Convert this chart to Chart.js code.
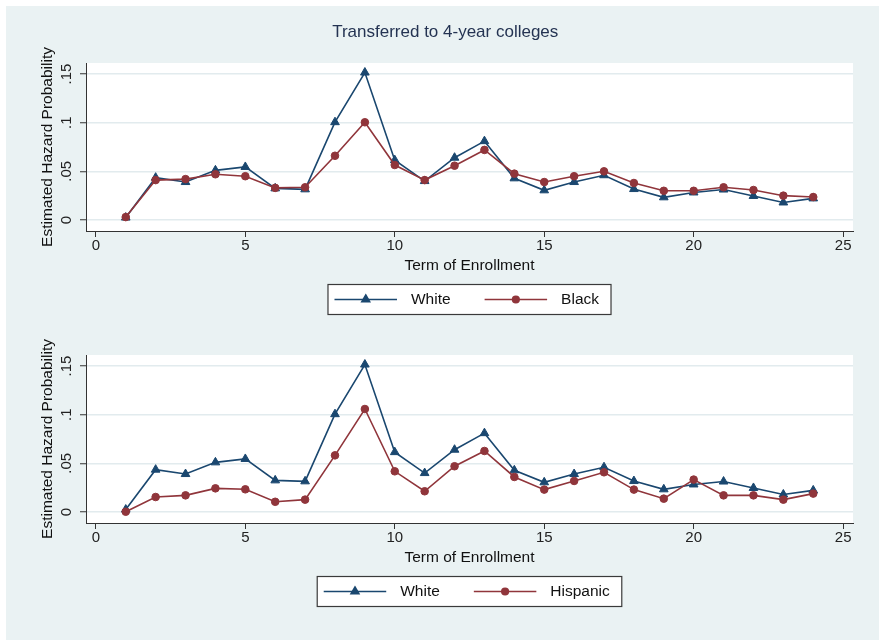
<!DOCTYPE html>
<html>
<head>
<meta charset="utf-8">
<script src="https://cdn.jsdelivr.net/npm/chart.js@4.4.1/dist/chart.umd.min.js"></script>
<style>
  html, body { margin: 0; padding: 0; background: #ffffff; }
  #graph { position: absolute; left: 6px; top: 6px; width: 873px; height: 634px; background: #eaf2f3; }
  #graph canvas { position: absolute; left: 0; }
  #top { top: 0; }
  #bottom { top: 314px; }
</style>
</head>
<body>
<div id="graph">
  <canvas id="top" width="873" height="314"></canvas>
  <canvas id="bottom" width="873" height="320"></canvas>
</div>
<script>
// Term of enrollment (x) and estimated hazard probabilities per group
const terms = [1, 2, 3, 4, 5, 6, 7, 8, 9, 10, 11, 12, 13, 14, 15, 16, 17, 18, 19, 20, 21, 22, 23, 24];
const white = [0.0025, 0.0435, 0.0390, 0.0510, 0.0545, 0.0325, 0.0315, 0.1005, 0.1515, 0.0615, 0.0400, 0.0640,
               0.0810, 0.0428, 0.0305, 0.0390, 0.0460, 0.0318, 0.0233, 0.0283, 0.0313, 0.0247, 0.0180, 0.0222];
const black = [0.0030, 0.0410, 0.0420, 0.0470, 0.0450, 0.0330, 0.0336, 0.0660, 0.1004, 0.0565, 0.0410, 0.0558,
               0.0720, 0.0476, 0.0390, 0.0450, 0.0500, 0.0380, 0.0300, 0.0300, 0.0336, 0.0308, 0.0250, 0.0236];
const hispanic = [0.0003, 0.0154, 0.0171, 0.0243, 0.0233, 0.0105, 0.0127, 0.0582, 0.1058, 0.0418, 0.0213, 0.0470,
                  0.0627, 0.0360, 0.0230, 0.0319, 0.0408, 0.0230, 0.0137, 0.0333, 0.0171, 0.0171, 0.0127, 0.0189];

const xTicks = [0, 5, 10, 15, 20, 25];
const xTickLabels = ['0', '5', '10', '15', '20', '25'];
const yTicks = [0, 0.05, 0.1, 0.15];
const yTickLabels = ['0', '.05', '.1', '.15'];

const chartTitle = 'Transferred to 4-year colleges';
const xTitle = 'Term of Enrollment';
const yTitle = 'Estimated Hazard Probability';

const FAMILY = "'Liberation Sans', Arial, Helvetica, sans-serif";
const NAVY = '#1a476f';
const MAROON = '#90353b';
const AXIS = '#333333';

function points(values) {
  return terms.map((t, i) => ({ x: t, y: values[i] }));
}

// White plot region behind the data
const plotBackground = {
  id: 'plotBackground',
  beforeDraw(chart) {
    const { ctx, chartArea: a } = chart;
    ctx.save();
    ctx.fillStyle = '#ffffff';
    ctx.fillRect(a.left, a.top, a.right - a.left, a.bottom - a.top);
    ctx.restore();
  }
};

// Vertical y tick labels, placed from the y scale
const verticalYLabels = {
  id: 'verticalYLabels',
  afterDraw(chart) {
    const { ctx } = chart;
    const scale = chart.scales.y;
    ctx.save();
    ctx.font = '15px ' + FAMILY;
    ctx.fillStyle = '#222222';
    ctx.textAlign = 'center';
    ctx.textBaseline = 'middle';
    scale.ticks.forEach((t, i) => {
      const py = scale.getPixelForValue(t.value);
      ctx.save();
      ctx.translate(chart.chartArea.left - 19.5, py);
      ctx.rotate(-Math.PI / 2);
      ctx.fillText(yTickLabels[i], 0, 0);
      ctx.restore();
    });
    ctx.restore();
  }
};

// Boxed legend below the x axis: line + marker + label for each series
const boxLegend = {
  id: 'boxLegend',
  afterDraw(chart) {
    const { ctx, chartArea: a } = chart;
    const sets = chart.data.datasets;
    const padL = 6.5, lineLen = 62.5, gapT = 14, itemGap = 34, padR = 12, h = 30;
    ctx.save();
    ctx.font = '15.5px ' + FAMILY;
    const widths = sets.map(d => ctx.measureText(d.label).width);
    let total = padL + padR + itemGap * (sets.length - 1);
    widths.forEach(w => { total += lineLen + gapT + w; });
    const x0 = (a.left + a.right) / 2 - total / 2;
    const y0 = a.bottom + 53.5;
    ctx.fillStyle = '#ffffff';
    ctx.fillRect(x0, y0, total, h);
    ctx.strokeStyle = '#3a3a3a';
    ctx.lineWidth = 1.2;
    ctx.strokeRect(x0, y0, total, h);
    const cy = y0 + h / 2;
    let x = x0 + padL;
    sets.forEach((d, i) => {
      ctx.strokeStyle = d.borderColor;
      ctx.lineWidth = d.borderWidth;
      ctx.beginPath();
      ctx.moveTo(x, cy);
      ctx.lineTo(x + lineLen, cy);
      ctx.stroke();
      ctx.fillStyle = d.pointBackgroundColor;
      ctx.strokeStyle = d.pointBorderColor;
      Chart.helpers.drawPoint(ctx, {
        pointStyle: d.pointStyle,
        radius: d.pointStyle === 'triangle' ? 4.5 : 3.3,
        rotation: 0,
        borderWidth: 1
      }, x + lineLen / 2, cy);
      ctx.fillStyle = '#111111';
      ctx.textAlign = 'left';
      ctx.textBaseline = 'middle';
      ctx.fillText(d.label, x + lineLen + gapT, cy + 0.5);
      x += lineLen + gapT + widths[i] + itemGap;
    });
    ctx.restore();
  }
};

function makeChart(canvasId, otherLabel, otherValues, cfg) {
  const font = { family: FAMILY, size: 15 };
  const titleFont = { family: FAMILY, size: 15.5 };
  return new Chart(document.getElementById(canvasId), {
    type: 'line',
    data: {
      datasets: [
        {
          label: 'White',
          data: points(white),
          borderColor: NAVY,
          backgroundColor: NAVY,
          pointBackgroundColor: NAVY,
          pointBorderColor: NAVY,
          pointStyle: 'triangle',
          pointRadius: 5,
          pointBorderWidth: 1,
          borderWidth: 1.6,
          tension: 0,
          order: 1
        },
        {
          label: otherLabel,
          data: points(otherValues),
          borderColor: MAROON,
          backgroundColor: MAROON,
          pointBackgroundColor: MAROON,
          pointBorderColor: MAROON,
          pointStyle: 'circle',
          pointRadius: 3.8,
          pointBorderWidth: 1,
          borderWidth: 1.6,
          tension: 0,
          order: 0
        }
      ]
    },
    options: {
      responsive: false,
      animation: false,
      devicePixelRatio: 1,
      layout: { padding: { top: cfg.padTop, right: 26, bottom: 0, left: 31.5 } },
      plugins: {
        legend: { display: false },
        tooltip: { enabled: false },
        title: {
          display: cfg.showTitle,
          text: chartTitle,
          color: '#243352',
          font: { family: FAMILY, size: 17, weight: 'normal' },
          padding: { top: 15.8, bottom: 20.8 }
        }
      },
      scales: {
        x: {
          type: 'linear',
          min: -0.33,
          max: 25.33,
          afterBuildTicks: s => { s.ticks = xTicks.map(v => ({ value: v })); },
          afterFit: s => { s.height = cfg.xHeight; },
          ticks: {
            autoSkip: false,
            maxRotation: 0,
            padding: 0,
            color: '#222222',
            font: font,
            callback: (v, i) => xTickLabels[i]
          },
          grid: { drawOnChartArea: false, drawTicks: true, tickLength: 6, tickColor: AXIS, tickWidth: 1 },
          border: { color: AXIS, width: 1 },
          title: { display: true, text: xTitle, color: '#111111', font: titleFont, padding: { top: 0, bottom: cfg.xTitlePad } }
        },
        y: {
          type: 'linear',
          min: -0.0113,
          max: 0.1613,
          afterBuildTicks: s => { s.ticks = yTicks.map(v => ({ value: v })); },
          afterFit: s => { s.width = 48.5; },
          ticks: { display: false },
          grid: { color: '#e2ebee', lineWidth: 1.5, drawTicks: true, tickLength: 6, tickColor: AXIS, tickWidth: 1 },
          border: { color: AXIS, width: 1 },
          title: { display: true, text: yTitle, color: '#111111', font: titleFont, padding: { top: 1.2, bottom: 0 } }
        }
      }
    },
    plugins: [plotBackground, verticalYLabels, boxLegend]
  });
}

makeChart('top', 'Black', black, { showTitle: true, padTop: 0, xHeight: 89, xTitlePad: 44.7 });
makeChart('bottom', 'Hispanic', hispanic, { showTitle: false, padTop: 35, xHeight: 117, xTitlePad: 72.7 });
</script>
</body>
</html>
